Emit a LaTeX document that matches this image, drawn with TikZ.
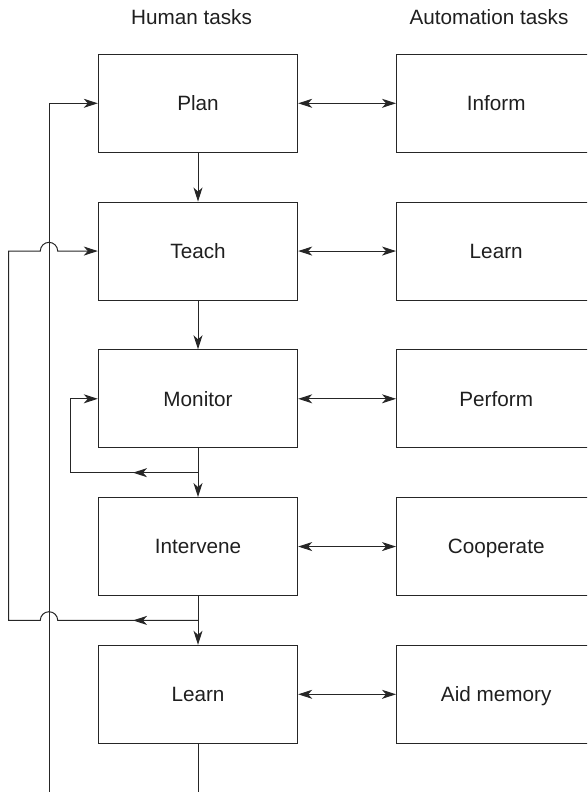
\documentclass[tikz,border=0pt]{standalone}
\usepackage{fontspec}
\setmainfont{Liberation Sans}
\usetikzlibrary{arrows.meta,calc}
\begin{document}
\begin{tikzpicture}[x=1pt,y=-1pt,
  line/.style={line width=1pt, draw=black!85},
  arr/.style={line, -{Stealth[length=14pt,width=9pt,inset=4pt]}},
  dbl/.style={line, {Stealth[length=14pt,width=9pt,inset=4pt]}-{Stealth[length=14pt,width=9pt,inset=4pt]}},
  taskbox/.style={draw=black!85, line width=1pt, minimum width=199.4pt,
    minimum height=98pt, inner sep=0pt, text=black!88,
    text height=14.8pt, text depth=0pt,
    font=\fontsize{20.7}{24}\selectfont},
  head/.style={anchor=base, inner sep=0pt, text=black!88,
    font=\fontsize{20.7}{24}\selectfont}
]
\useasboundingbox (0,0) rectangle (587,792);
\clip (0,0) rectangle (587,792);

% column headings
\node[head] (hhuman) at (191.5,25) {Human tasks};
\node[head] (hauto) at (489,25) {Automation tasks};

% human task boxes
\node[taskbox] (plan)      at (198,103.3)  {Plan};
\node[taskbox] (teach)     at (198,251.05) {Teach};
\node[taskbox] (monitor)   at (198,398.8)  {Monitor};
\node[taskbox] (intervene) at (198,546.55) {Intervene};
\node[taskbox] (learnh)    at (198,694.3)  {Learn};

% automation task boxes
\node[taskbox] (inform)    at (496.2,103.3)  {Inform};
\node[taskbox] (learna)    at (496.2,251.05) {Learn};
\node[taskbox] (perform)   at (496.2,398.8)  {Perform};
\node[taskbox] (cooperate) at (496.2,546.55) {Cooperate};
\node[taskbox] (aid)       at (496.2,694.3)  {Aid memory};

% two-way links between the columns
\draw[dbl] (plan) -- (inform);
\draw[dbl] (teach) -- (learna);
\draw[dbl] (monitor) -- (perform);
\draw[dbl] (intervene) -- (cooperate);
\draw[dbl] (learnh) -- (aid);

% main sequence
\draw[arr] (plan) -- (teach);
\draw[arr] (teach) -- (monitor);
\draw[arr] (monitor) -- (intervene);
\draw[arr] (intervene) -- (learnh);

\coordinate (j1) at ($(monitor.south)!0.5!(intervene.north)$);
\coordinate (j2) at ($(intervene.south)!0.5!(learnh.north)$);
\coordinate (bot) at (198,792);
\coordinate (outbot) at (49,792);

\draw[line] (learnh.south) -- (bot);

% monitor loop
\draw[arr] (j1) -- ++(-127.6,0) |- (monitor.west);
\draw[arr] (j1) -- ++(-65,0);

% return from learn to teach, hopping over the long line
\draw[arr] (j2) -- (57.7,620.4) arc[start angle=0,end angle=180,radius=8.7pt]
  -- (8.7,620.4) |- (40.3,251.05) arc[start angle=180,end angle=0,radius=8.7pt]
  -- (teach.west);
\draw[arr] (j2) -- ++(-65,0);

% long return to plan
\draw[arr] (outbot) |- (plan.west);
\end{tikzpicture}
\end{document}
